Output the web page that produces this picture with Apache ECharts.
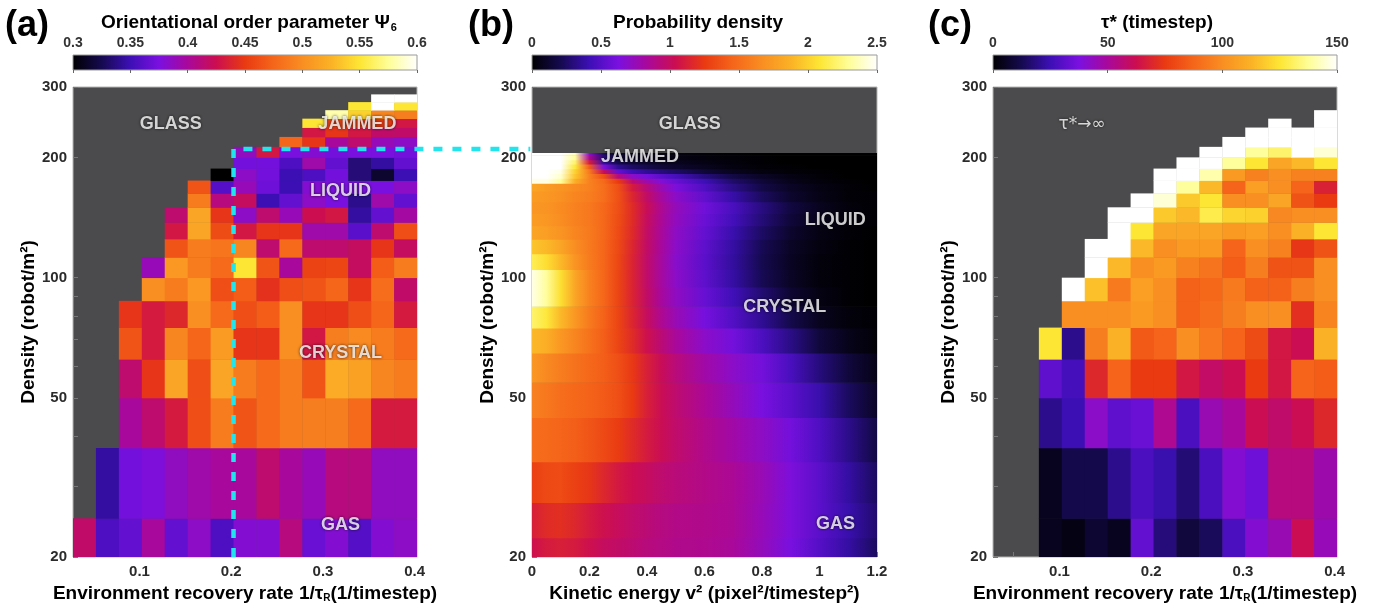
<!DOCTYPE html>
<html><head><meta charset="utf-8">
<script src="https://cdn.jsdelivr.net/npm/echarts@6/dist/echarts.min.js"></script>
<style>html,body{margin:0;padding:0;background:#fff}#c{width:1375px;height:608px}</style>
</head><body><div id="c"></div>
<script>
const N = null;
const FONT = "'Liberation Sans', Arial, Helvetica, sans-serif";

// ---------- shared grid (panels a and c) ----------
const RATE_CENTERS = [0.04,0.065,0.09,0.115,0.14,0.165,0.19,0.215,0.24,0.265,0.29,0.315,0.34,0.365,0.39];
const DENSITY_EDGES = [20,25,37.5,50,62.5,75,87.5,100,112.5,125,137.5,150,162.5,175,187.5,200,212.5,225,237.5,250,262.5,275,287.5];
const DENSITY_TICKS = [20,50,100,200,300];
const DENSITY_MINOR_TICKS = [20,30,40,50,60,70,80,90,100,200,300];
const RATE_TICKS = [0.1,0.2,0.3,0.4];
const RATE_MINOR_TICKS = [0.05,0.1,0.15,0.2,0.25,0.3,0.35,0.4];

// ---------- (a) orientational order parameter, rows bottom -> top ----------
const PSI6_ROWS = [
 [0.417,0.357,0.366,0.400,0.366,0.385,0.357,0.380,0.380,0.410,0.368,0.380,0.360,0.380,0.385],
 [N,0.345,0.372,0.377,0.387,0.395,0.400,0.400,0.415,0.400,0.390,0.410,0.410,0.387,0.387],
 [N,N,0.400,0.415,0.432,0.462,0.489,0.465,0.478,0.489,0.490,0.490,0.478,0.432,0.432],
 [N,N,0.415,0.447,0.516,0.462,0.516,0.489,0.478,0.489,0.465,0.520,0.513,0.495,0.489],
 [N,N,0.465,0.432,0.495,0.475,0.510,0.447,0.447,0.500,0.430,0.490,0.497,0.489,0.478],
 [N,N,0.447,0.432,0.440,0.500,0.478,0.462,0.470,0.500,0.447,0.447,0.462,0.475,0.432],
 [N,N,N,0.500,0.489,0.507,0.462,0.470,0.445,0.462,0.465,0.475,0.447,0.480,0.417],
 [N,N,N,0.390,0.507,0.489,0.478,0.550,0.465,0.400,0.455,0.457,0.420,0.470,0.489],
 [N,N,N,N,0.465,0.489,0.485,0.495,0.415,0.478,0.415,0.415,0.420,0.447,0.420],
 [N,N,N,N,0.430,0.516,0.460,0.430,0.447,0.447,0.395,0.395,0.362,0.415,0.462],
 [N,N,N,N,0.415,0.516,0.447,0.385,0.415,0.390,0.425,0.430,0.345,0.366,0.398],
 [N,N,N,N,N,0.489,0.410,0.420,0.350,0.366,0.385,0.375,0.340,0.395,0.366],
 [N,N,N,N,N,0.465,0.360,0.390,0.370,0.350,0.380,0.375,0.375,0.375,0.385],
 [N,N,N,N,N,N,0.300,0.385,0.372,0.350,0.357,0.372,0.335,0.315,0.350],
 [N,N,N,N,N,N,N,0.372,0.372,0.357,0.395,0.366,0.335,0.345,0.366],
 [N,N,N,N,N,N,N,0.387,0.430,0.375,0.380,0.372,0.375,0.375,0.372],
 [N,N,N,N,N,N,N,N,N,0.475,0.447,0.400,0.415,0.390,0.385],
 [N,N,N,N,N,N,N,N,N,N,0.430,0.447,0.430,0.417,0.417],
 [N,N,N,N,N,N,N,N,N,N,0.550,0.455,0.455,0.450,0.430],
 [N,N,N,N,N,N,N,N,N,N,N,0.580,0.540,0.495,0.490],
 [N,N,N,N,N,N,N,N,N,N,N,N,0.550,0.600,0.550],
 [N,N,N,N,N,N,N,N,N,N,N,N,N,0.600,0.600]
];

// ---------- (c) tau* (timestep), rows bottom -> top ----------
const TAU_ROWS = [
 [N,N,5,3,8,5,33,18,10,14,28,40,46,62,45],
 [N,N,5,12,12,20,28,24,17,28,40,35,55,55,47],
 [N,N,20,25,42,32,34,52,28,46,50,62,58,62,70],
 [N,N,32,27,70,87,75,75,65,59,62,75,65,87,85],
 [N,N,125,20,95,112,84,87,100,93,87,80,65,62,112],
 [N,N,N,100,100,100,104,100,86,90,95,100,100,72,97],
 [N,N,N,150,116,94,106,100,86,88,94,86,86,95,100],
 [N,N,N,N,150,114,100,104,96,92,85,95,82,82,100],
 [N,N,N,N,150,150,114,100,104,104,87,100,96,74,82],
 [N,N,N,N,N,150,125,108,108,108,104,106,100,112,125],
 [N,N,N,N,N,150,150,118,114,128,121,120,98,100,100],
 [N,N,N,N,N,N,150,145,118,125,100,100,108,82,75],
 [N,N,N,N,N,N,N,150,138,114,87,106,100,87,68],
 [N,N,N,N,N,N,N,150,150,140,104,96,100,96,96],
 [N,N,N,N,N,N,N,N,150,150,138,125,108,114,125],
 [N,N,N,N,N,N,N,N,N,150,150,138,132,150,145],
 [N,N,N,N,N,N,N,N,N,N,150,150,150,150,150],
 [N,N,N,N,N,N,N,N,N,N,N,150,150,150,150],
 [N,N,N,N,N,N,N,N,N,N,N,N,150,N,150],
 [N,N,N,N,N,N,N,N,N,N,N,N,N,N,150],
 [N,N,N,N,N,N,N,N,N,N,N,N,N,N,N],
 [N,N,N,N,N,N,N,N,N,N,N,N,N,N,N]
];

// ---------- (b) probability density of kinetic energy ----------
const KE_KNOTS = [0,0.05,0.1,0.15,0.2,0.25,0.3,0.35,0.4,0.45,0.5,0.6,0.7,0.8,0.9,1.0,1.1,1.2];
const KE_DENSITIES = [20,25,30,40,50,60,70,80,90,100,110,120,130,140,150,160,170,175,180,185,190,195,200,205];
const KE_PDF = [
 [1.05,1.10,1.12,1.10,1.05,1.00,0.98,0.95,0.92,0.90,0.88,0.87,0.84,0.74,0.62,0.50,0.38,0.24],
 [1.12,1.18,1.20,1.16,1.10,1.05,1.01,0.97,0.94,0.91,0.89,0.88,0.85,0.75,0.64,0.52,0.40,0.27],
 [1.28,1.32,1.33,1.28,1.23,1.16,1.09,1.04,1.00,0.96,0.93,0.89,0.85,0.76,0.64,0.52,0.38,0.24],
 [1.50,1.48,1.45,1.42,1.38,1.32,1.26,1.18,1.10,1.03,0.97,0.88,0.80,0.71,0.60,0.48,0.33,0.18],
 [1.60,1.55,1.50,1.47,1.44,1.40,1.35,1.25,1.12,1.03,0.96,0.85,0.74,0.62,0.52,0.40,0.24,0.10],
 [1.72,1.64,1.58,1.52,1.47,1.42,1.35,1.24,1.12,1.02,0.93,0.80,0.70,0.60,0.46,0.30,0.16,0.06],
 [1.90,1.85,1.72,1.62,1.52,1.42,1.30,1.18,1.05,0.94,0.84,0.70,0.60,0.47,0.32,0.16,0.07,0.02],
 [2.20,2.10,1.90,1.72,1.56,1.44,1.30,1.15,1.00,0.86,0.76,0.61,0.49,0.35,0.20,0.08,0.03,0.01],
 [2.45,2.30,2.05,1.80,1.60,1.46,1.30,1.14,0.98,0.83,0.72,0.56,0.43,0.28,0.13,0.05,0.01,0],
 [2.45,2.30,2.05,1.80,1.60,1.46,1.30,1.14,0.97,0.82,0.70,0.53,0.38,0.22,0.10,0.03,0.01,0],
 [2.15,2.05,1.90,1.70,1.57,1.46,1.31,1.14,0.97,0.82,0.69,0.52,0.37,0.21,0.09,0.03,0.01,0],
 [1.95,1.90,1.80,1.66,1.56,1.46,1.32,1.15,0.98,0.83,0.70,0.53,0.38,0.22,0.10,0.04,0.01,0],
 [1.80,1.76,1.70,1.62,1.56,1.47,1.33,1.17,0.99,0.84,0.71,0.55,0.40,0.25,0.12,0.05,0.02,0],
 [1.75,1.72,1.66,1.60,1.55,1.47,1.34,1.18,1.00,0.85,0.73,0.57,0.44,0.29,0.15,0.07,0.03,0.01],
 [1.72,1.70,1.65,1.60,1.55,1.47,1.35,1.18,1.02,0.86,0.74,0.59,0.46,0.31,0.17,0.08,0.03,0.01],
 [1.75,1.72,1.68,1.62,1.58,1.50,1.36,1.15,0.98,0.82,0.70,0.54,0.39,0.24,0.12,0.06,0.02,0.01],
 [1.80,1.75,1.70,1.65,1.60,1.50,1.35,1.10,0.92,0.76,0.64,0.48,0.32,0.19,0.10,0.05,0.02,0],
 [2.45,2.45,2.30,1.85,1.60,1.48,1.25,0.95,0.78,0.66,0.56,0.42,0.26,0.15,0.07,0.03,0.01,0],
 [2.50,2.50,2.40,1.95,1.60,1.35,0.90,0.70,0.60,0.52,0.45,0.30,0.18,0.10,0.05,0.02,0,0],
 [2.50,2.50,2.45,2.00,1.55,1.00,0.55,0.42,0.35,0.30,0.25,0.15,0.08,0.04,0.02,0.01,0,0],
 [2.50,2.50,2.50,2.10,1.40,0.65,0.35,0.25,0.20,0.15,0.12,0.08,0.04,0.02,0.01,0,0,0],
 [2.50,2.50,2.50,2.20,1.10,0.40,0.20,0.15,0.12,0.10,0.08,0.05,0.03,0.01,0,0,0,0],
 [2.50,2.50,2.50,2.30,0.85,0.30,0.15,0.10,0.08,0.06,0.05,0.03,0.02,0.01,0,0,0,0],
 [2.50,2.50,2.50,2.35,0.70,0.25,0.12,0.08,0.06,0.05,0.04,0.02,0.01,0,0,0,0,0]
];
const KE_GLASS_LIMIT = 205;

// ---------- colour scale ranges ----------
const PSI6_RANGE = [0.3, 0.6], PSI6_STEP = 0.05;
const PDF_RANGE = [0, 2.5], PDF_STEP = 0.5;
const TAU_RANGE = [0, 150], TAU_STEP = 50;
const CMAP = ['#000000','#150a4e','#3c0fb5','#7a10e0','#a8089c','#cc0e50','#e93a12','#f5661a','#f98e22','#fbb226','#fde634','#fffe98','#ffffff'];

function hexRgb(h){return [parseInt(h.slice(1,3),16),parseInt(h.slice(3,5),16),parseInt(h.slice(5,7),16)];}
const CMAP_RGB = CMAP.map(hexRgb);
function cmap(t){
  t = Math.max(0, Math.min(1, t));
  const f = t*(CMAP.length-1), i = Math.min(CMAP.length-2, Math.floor(f)), u = f-i;
  const a = CMAP_RGB[i], b = CMAP_RGB[i+1];
  return 'rgb(' + a.map((v,k)=>Math.round(v+(b[k]-v)*u)).join(',') + ')';
}

function cellData(rows){
  const out = [];
  rows.forEach((row, r) => row.forEach((v, c) => {
    if (v != null) out.push([RATE_CENTERS[c], DENSITY_EDGES[r], DENSITY_EDGES[r+1], v]);
  }));
  return out;
}
const HALF = (RATE_CENTERS[1]-RATE_CENTERS[0])/2;
function renderCell(params, api){
  const x = api.value(0), lo = api.value(1), hi = api.value(2);
  const p0 = api.coord([x-HALF, lo]), p1 = api.coord([x+HALF, hi]);
  return {type:'rect', shape:{x:p0[0], y:p1[1], width:p1[0]-p0[0]+0.4, height:p0[1]-p1[1]+0.4},
          style:{fill: api.visual('color')}};
}

const bandData = KE_DENSITIES.map((d, i) => {
  const lo = i === 0 ? 20 : Math.sqrt(KE_DENSITIES[i-1]*d);
  const hi = i === KE_DENSITIES.length-1 ? KE_GLASS_LIMIT : Math.sqrt(d*KE_DENSITIES[i+1]);
  return [i, lo, hi];
});
function renderBand(params, api){
  const i = api.value(0), lo = api.value(1), hi = api.value(2);
  const x0 = KE_KNOTS[0], x1 = KE_KNOTS[KE_KNOTS.length-1];
  const p0 = api.coord([x0, lo]), p1 = api.coord([x1, hi]);
  const w = p1[0]-p0[0];
  const stops = KE_KNOTS.map((k, j) => ({offset:(api.coord([k, lo])[0]-p0[0])/w,
      color: cmap((KE_PDF[i][j]-PDF_RANGE[0])/(PDF_RANGE[1]-PDF_RANGE[0]))}));
  return {type:'rect', shape:{x:p0[0], y:p1[1], width:w, height:p0[1]-p1[1]+0.6},
          style:{fill: new echarts.graphic.LinearGradient(0,0,1,0,stops)}};
}
function renderBar(range){
  return function(params, api){
    const p0 = api.coord([range[0], 0]), p1 = api.coord([range[1], 1]);
    const stops = CMAP.map((c, i) => ({offset:i/(CMAP.length-1), color:c}));
    return {type:'rect', shape:{x:p0[0], y:p1[1], width:p1[0]-p0[0], height:p0[1]-p1[1]},
            style:{fill:new echarts.graphic.LinearGradient(0,0,1,0,stops), stroke:'#9a9a9a', lineWidth:1}};
  };
}
// dashed boundary (x = 1/tau_R, density), continues towards panel (b)
const DIVIDER_PATH = [[0.2025,20],[0.2025,210],[0.526,210]];
function renderDivider(params, api){
  return {type:'polyline', shape:{points: DIVIDER_PATH.map(pt => api.coord(pt))},
          style:{stroke:'#22e4ec', lineWidth:4.5, lineDash:[9,10], fill:null}};
}

const PLOTS = [{left:73,width:344},{left:532,width:345},{left:993,width:344}];
const tickLabel = {fontFamily:FONT, fontSize:15, fontWeight:'bold', color:'#2b2b2b'};
const nameStyle = {fontFamily:FONT, fontSize:19, fontWeight:'bold', color:'#000',
  rich:{sub:{fontFamily:FONT, fontSize:10, fontWeight:'bold', color:'#000', verticalAlign:'bottom', padding:[6,0,0,0]}}};
const GREY = '#4b4b4d';

function densityAxis(g, gap){
  return {type:'log', logBase:10, gridIndex:g, min:20, max:300,
    axisLine:{show:false}, splitLine:{show:false},
    axisTick:{show:true, inside:true, length:5, lineStyle:{color:'#777'}, customValues:DENSITY_MINOR_TICKS},
    axisLabel:Object.assign({margin:6, customValues:DENSITY_TICKS}, tickLabel),
    name:'Density (robot/m²)', nameLocation:'middle', nameGap:gap, nameTextStyle:nameStyle};
}
function rateAxis(g){
  return {type:'value', gridIndex:g, min:0.0275, max:0.4025,
    axisLine:{show:false}, splitLine:{show:false},
    axisTick:{show:true, inside:true, length:5, lineStyle:{color:'#777'}, customValues:RATE_MINOR_TICKS},
    axisLabel:Object.assign({margin:7, customValues:RATE_TICKS, formatter:v=>String(+(+v).toFixed(3))}, tickLabel),
    name:'Environment recovery rate 1/τ{sub|R}(1/timestep)', nameLocation:'middle', nameGap:27, nameTextStyle:nameStyle};
}
function barAxis(g, range, step){
  return {type:'value', gridIndex:g, position:'top', min:range[0], max:range[1], interval:step, z:5,
    axisLine:{show:false}, splitLine:{show:false},
    axisTick:{show:true, inside:true, length:3, lineStyle:{color:'#666'}},
    axisLabel:{margin:5, fontFamily:FONT, fontSize:14, fontWeight:'bold', color:'#333', showMinLabel:true, showMaxLabel:true}};
}
const labelStyle = {show:true, position:'inside', formatter:'{b}', color:'#fff', fontFamily:FONT, fontSize:18,
  fontWeight:'bold', textShadowColor:'rgba(0,0,0,0.9)', textShadowBlur:3};
function phaseLabels(xi, items, extra){
  return {type:'scatter', xAxisIndex:xi, yAxisIndex:xi, symbolSize:1, silent:true, z:10,
    itemStyle:{color:'rgba(0,0,0,0)'},
    label:Object.assign({}, labelStyle, extra||{}),
    data:items.map(it=>({name:it[0], value:[it[1], it[2]]}))};
}

const option = {
  animation:false,
  backgroundColor:'#fff',
  grid: PLOTS.map(p=>({left:p.left, width:p.width, top:87, height:470, show:true, backgroundColor:GREY, borderColor:'#b5b5b5', borderWidth:1}))
    .concat(PLOTS.map(p=>({left:p.left, width:p.width, top:55, height:15, show:false}))),
  xAxis:[
    rateAxis(0),
    {type:'value', gridIndex:1, min:0, max:1.2, interval:0.2,
      axisLine:{show:false}, splitLine:{show:false},
      axisTick:{show:true, inside:true, length:5, lineStyle:{color:'#777'}},
      axisLabel:Object.assign({margin:7}, tickLabel),
      name:'Kinetic energy v² (pixel²/timestep²)', nameLocation:'middle', nameGap:27, nameTextStyle:nameStyle},
    rateAxis(2),
    barAxis(3, PSI6_RANGE, PSI6_STEP),
    barAxis(4, PDF_RANGE, PDF_STEP),
    barAxis(5, TAU_RANGE, TAU_STEP)
  ],
  yAxis:[
    densityAxis(0, 35), densityAxis(1, 31), densityAxis(2, 29),
    {type:'value', gridIndex:3, min:0, max:1, show:false},
    {type:'value', gridIndex:4, min:0, max:1, show:false},
    {type:'value', gridIndex:5, min:0, max:1, show:false}
  ],
  visualMap:[
    {type:'continuous', show:false, seriesIndex:0, dimension:3, min:PSI6_RANGE[0], max:PSI6_RANGE[1], inRange:{color:CMAP}},
    {type:'continuous', show:false, seriesIndex:2, dimension:3, min:TAU_RANGE[0], max:TAU_RANGE[1], inRange:{color:CMAP}}
  ],
  series:[
    {type:'custom', xAxisIndex:0, yAxisIndex:0, data:cellData(PSI6_ROWS), renderItem:renderCell, silent:true, clip:true},
    {type:'custom', xAxisIndex:1, yAxisIndex:1, data:bandData, renderItem:renderBand, silent:true, clip:true},
    {type:'custom', xAxisIndex:2, yAxisIndex:2, data:cellData(TAU_ROWS), renderItem:renderCell, silent:true, clip:true},
    {type:'custom', xAxisIndex:0, yAxisIndex:0, data:[[0]], renderItem:renderDivider, silent:true, clip:false, z:8},
    {type:'custom', xAxisIndex:3, yAxisIndex:3, data:[[0]], renderItem:renderBar(PSI6_RANGE), silent:true},
    {type:'custom', xAxisIndex:4, yAxisIndex:4, data:[[0]], renderItem:renderBar(PDF_RANGE), silent:true},
    {type:'custom', xAxisIndex:5, yAxisIndex:5, data:[[0]], renderItem:renderBar(TAU_RANGE), silent:true},
    phaseLabels(0, [['GLASS',0.134,242],['JAMMED',0.3375,242],['LIQUID',0.319,165],['CRYSTAL',0.319,64.7],['GAS',0.319,24.1]]),
    phaseLabels(1, [['GLASS',0.549,242],['JAMMED',0.376,200],['LIQUID',1.055,139],['CRYSTAL',0.879,84.5],['GAS',1.056,24.2]]),
    phaseLabels(2, [['τ*→∞',0.1245,242]], {fontWeight:'normal', fontSize:17, fontFamily:"'DejaVu Sans', sans-serif"})
  ],
  graphic:[
    {type:'text', x:27, y:26, style:{text:'(a)', font:'bold 36px '+FONT, fill:'#000', align:'center', verticalAlign:'middle'}},
    {type:'text', x:491, y:26, style:{text:'(b)', font:'bold 36px '+FONT, fill:'#000', align:'center', verticalAlign:'middle'}},
    {type:'text', x:950, y:26, style:{text:'(c)', font:'bold 36px '+FONT, fill:'#000', align:'center', verticalAlign:'middle'}},
    {type:'text', x:249, y:23, style:{text:'{t|Orientational order parameter Ψ}{s|6}', align:'center', verticalAlign:'middle',
      rich:{t:{font:'bold 19px '+FONT, fill:'#000'}, s:{font:'bold 11px '+FONT, fill:'#000', verticalAlign:'bottom', padding:[9,0,0,1]}}}},
    {type:'text', x:698, y:23, style:{text:'Probability density', font:'bold 19px '+FONT, fill:'#000', align:'center', verticalAlign:'middle'}},
    {type:'text', x:1157, y:23, style:{text:'τ* (timestep)', font:'bold 19px '+FONT, fill:'#000', align:'center', verticalAlign:'middle'}}
  ]
};
const chart = echarts.init(document.getElementById('c'), null, {renderer:'canvas'});
chart.setOption(option);
</script></body></html>
